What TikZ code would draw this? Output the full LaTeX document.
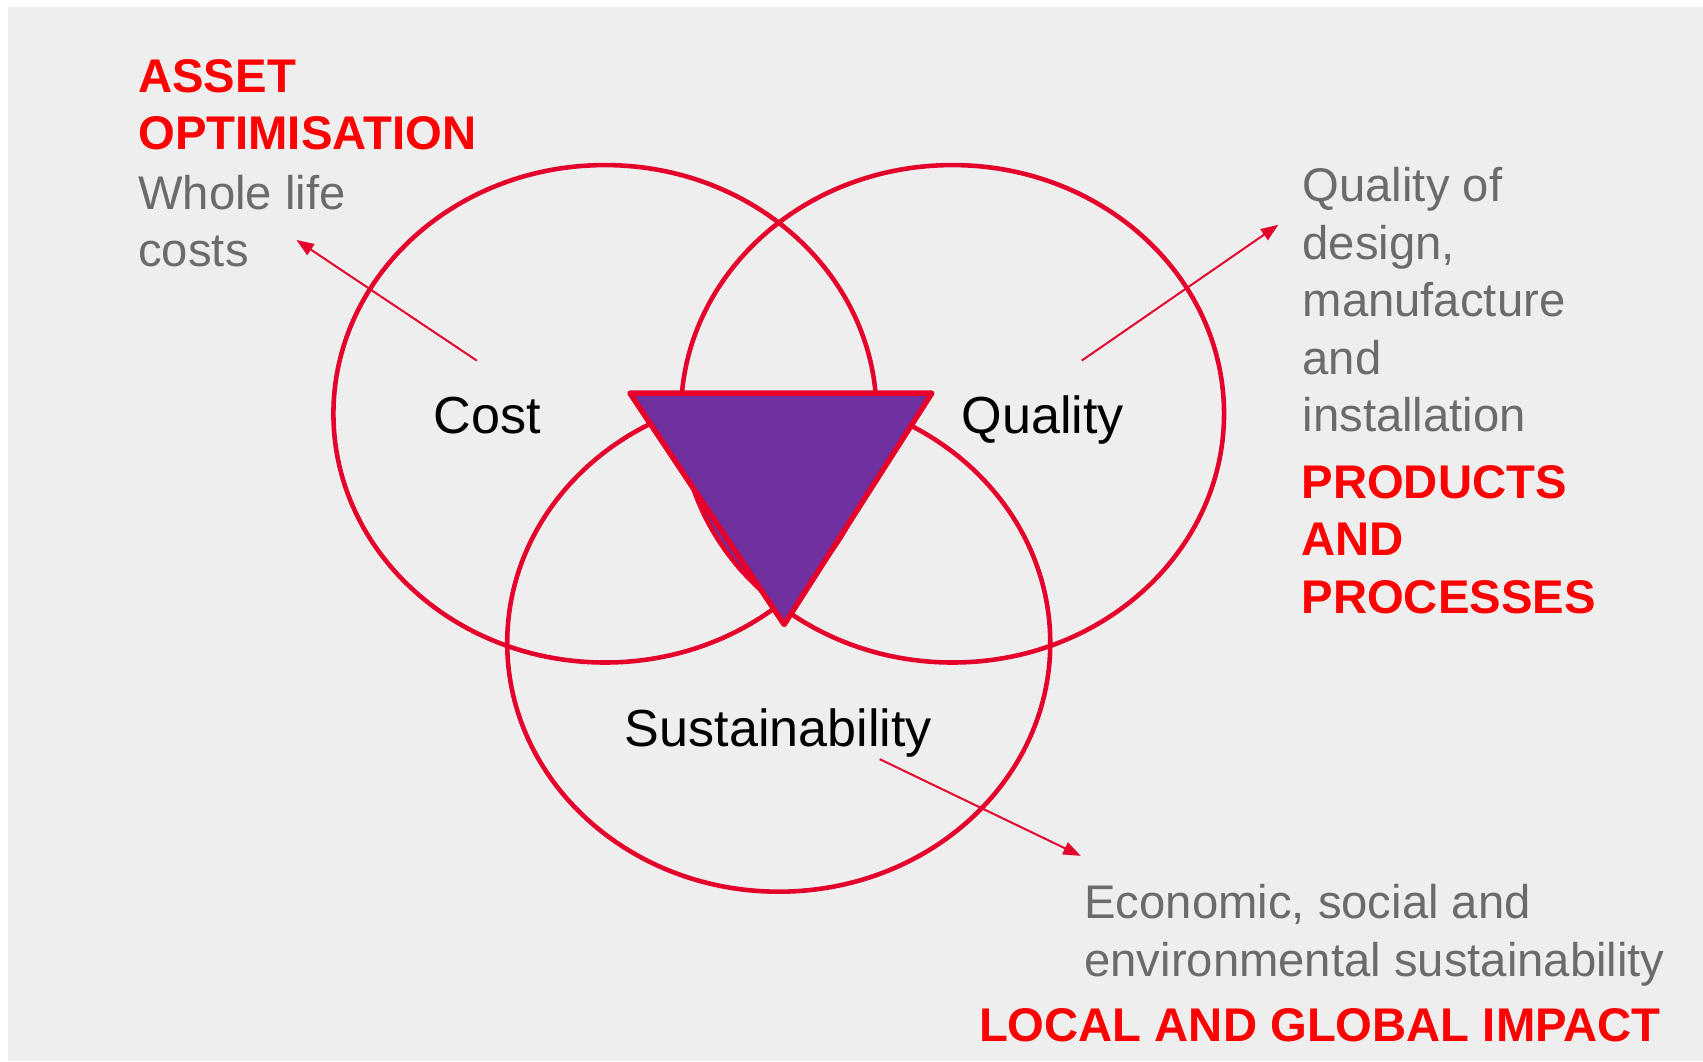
\documentclass[tikz,border=0pt]{standalone}
\usepackage{fontspec}
\setmainfont{Liberation Sans}
\usetikzlibrary{shapes.geometric,arrows.meta}
\definecolor{vennred}{HTML}{E4002B}
\definecolor{headred}{HTML}{FF0000}
\definecolor{notegray}{HTML}{6B6B6B}
\definecolor{corepurple}{HTML}{7030A0}
\definecolor{backgray}{HTML}{EEEEEE}
\tikzset{
  venn/.style={ellipse, draw=vennred, line width=2.1pt, minimum width=250pt, minimum height=229pt, inner sep=0pt},
  namebox/.style={anchor=base west, inner sep=0pt, font=\fontsize{24pt}{28pt}\selectfont},
  notetext/.style={anchor=base west, inner sep=0pt, align=left, text=notegray, font=\fontsize{21.75pt}{26.5pt}\selectfont},
  headtext/.style={notetext, text=headred, font=\fontsize{21.75pt}{26.5pt}\selectfont\bfseries},
  pointer/.style={draw=vennred, line width=0.9pt, -{Triangle[length=8pt,width=6pt]}}
}
\begin{document}
\begin{tikzpicture}[x=0.5pt,y=-0.5pt]
\useasboundingbox (0,0) rectangle (1568,977);
\fill[backgray] (7.5,6.5) rectangle (1568,977);
\node[venn] (cost) at (557,381) {};
\node[venn] (qual) at (877,381) {};
\node[venn] (sust) at (717,592) {};
% purple core with the quality arc showing at its left edge
\begin{scope}
\clip (qual.center) ellipse [x radius=125pt, y radius=114.5pt];
\fill[corepurple] (600,430) -- (662,430) -- (722,576) -- (690,576) -- cycle;
\end{scope}
\begin{scope}
\clip (600,430) -- (662,430) -- (722,576) -- (690,576) -- cycle;
\draw[vennred, line width=2.1pt] (qual.center) ellipse [x radius=125pt, y radius=114.5pt];
\end{scope}
\coordinate (tl) at (580,362);
\coordinate (tr) at (858,362);
\coordinate (tb) at (722,575);
\filldraw[fill=corepurple, draw=vennred, line width=2.5pt, line join=round] (tl) -- (tr) -- (tb) -- cycle;
\node[namebox] (costname) at (399,399) {Cost};
\node[namebox] (qualname) at (885,399) {Quality};
\node[namebox] (sustname) at (575,687) {Sustainability};
% multi-line texts sit on the baseline of their last line
\node[headtext] (assethead) at (127,138) {ASSET\\OPTIMISATION};
\node[notetext] (assetnote) at (127,245.5) {Whole life\\costs};
\node[notetext] (qualnote) at (1199,397.5) {Quality of\\design,\\manufacture\\and\\installation};
\node[headtext] (qualhead) at (1198,564.7) {PRODUCTS\\AND\\PROCESSES};
\node[notetext] (sustnote) at (998,899) {Economic, social and\\environmental sustainability};
\node[headtext] (susthead) at (901,959) {LOCAL AND GLOBAL IMPACT};
\coordinate (costfrom) at (439,332);
\coordinate (costto) at (273,221);
\coordinate (qualfrom) at (996,332);
\coordinate (qualto) at (1177,207);
\coordinate (sustfrom) at (810,699);
\coordinate (sustto) at (995,788);
\draw[pointer] (costfrom) -- (costto);
\draw[pointer] (qualfrom) -- (qualto);
\draw[pointer] (sustfrom) -- (sustto);
\end{tikzpicture}
\end{document}
